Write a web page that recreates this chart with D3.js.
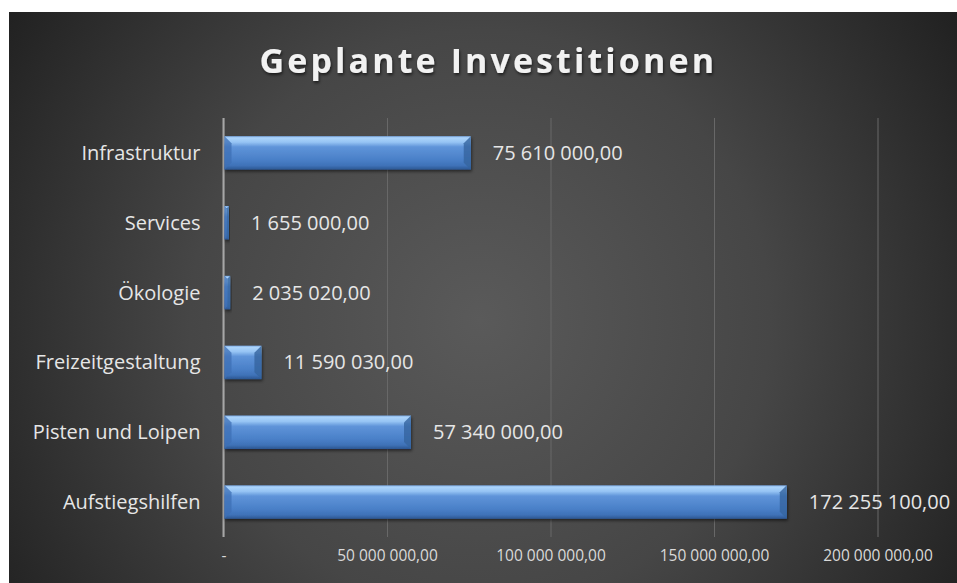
<!DOCTYPE html>
<html>
  <head>
    <meta charset="utf-8">
    <script src="https://d3js.org/d3.v7.min.js"></script>
    <title>Geplante Investitionen</title>
    <style>
      body { margin: 0; background: #fff; }
      text { font-family: 'Open Sans', sans-serif; }
      .tick line { stroke: #686868; }
      .domain { display: none; }
    </style>
  </head>
  <body>
    <svg width="957" height="583"></svg>
    <script>
      const categories = ['Aufstiegshilfen', 'Pisten und Loipen', 'Freizeitgestaltung', 'Ökologie', 'Services', 'Infrastruktur'];
      const values = [172255100, 57340000, 11590030, 2035020, 1655000, 75610000];
      const tickValues = [0, 50000000, 100000000, 150000000, 200000000];
      const title = 'Geplante Investitionen';

      const svg = d3.select('svg');
      const width = +svg.attr('width');
      const height = +svg.attr('height');
      const margin = { left: 223.5, right: 79.5, top: 118, bottom: 46 };
      const innerWidth = width - margin.left - margin.right;
      const innerHeight = height - margin.top - margin.bottom;

      const de = d3.formatLocale({ decimal: ',', thousands: '\u00a0', grouping: [3], currency: ['', ''] });
      const fmt = v => v === 0 ? '-' : de.format(',.2f')(v).replace(/\u00a0/g, ' ');

      const defs = svg.append('defs');
      const bg = defs.append('radialGradient').attr('id', 'bg')
          .attr('gradientUnits', 'userSpaceOnUse')
          .attr('cx', 480).attr('cy', 320).attr('r', 580);
      bg.append('stop').attr('offset', 0).attr('stop-color', '#5a5a5a');
      bg.append('stop').attr('offset', 0.5).attr('stop-color', '#464646');
      bg.append('stop').attr('offset', 1).attr('stop-color', '#1f1f1f');

      const barGrad = defs.append('linearGradient').attr('id', 'bar')
          .attr('x1', 0).attr('y1', 0).attr('x2', 0).attr('y2', 1);
      [[0, '#79a9e4'], [0.05, '#acd4fb'], [0.18, '#96c4f4'], [0.32, '#5f94d9'],
       [0.7, '#4a80c8'], [0.88, '#3f72b8'], [1, '#2c5691']].forEach(s =>
        barGrad.append('stop').attr('offset', s[0]).attr('stop-color', s[1]));

      const shadow = defs.append('filter').attr('id', 'shadow')
          .attr('x', '-10%').attr('y', '-20%').attr('width', '130%').attr('height', '160%');
      shadow.append('feDropShadow').attr('dx', 1).attr('dy', 2)
          .attr('stdDeviation', 1.5).attr('flood-color', '#000').attr('flood-opacity', 0.5);

      const tshadow = defs.append('filter').attr('id', 'tshadow');
      tshadow.append('feDropShadow').attr('dx', 1).attr('dy', 2)
          .attr('stdDeviation', 1.5).attr('flood-color', '#000').attr('flood-opacity', 0.6);

      svg.append('rect')
          .attr('x', 9).attr('y', 12)
          .attr('width', width - 9).attr('height', height - 12)
          .attr('fill', 'url(#bg)');

      svg.append('text')
          .attr('x', 488).attr('y', 73)
          .attr('text-anchor', 'middle')
          .attr('fill', '#f2f2f2')
          .attr('font-size', 34)
          .attr('font-weight', 'bold')
          .attr('letter-spacing', 2.5)
          .attr('textLength', 457)
          .attr('filter', 'url(#tshadow)')
          .text(title);

      const g = svg.append('g')
          .attr('transform', `translate(${margin.left},${margin.top})`);

      const xScale = d3.scaleLinear().domain([0, 200000000]).range([0, innerWidth]);
      const yScale = d3.scaleBand().domain(categories.slice().reverse())
          .range([0, innerHeight]).paddingInner(0.52).paddingOuter(0.26);

      const xAxis = d3.axisBottom(xScale)
          .tickValues(tickValues)
          .tickSize(-innerHeight)
          .tickPadding(13)
          .tickFormat(fmt);

      const xAxisG = g.append('g')
          .attr('transform', `translate(0,${innerHeight})`)
          .call(xAxis);
      xAxisG.selectAll('.tick text')
          .attr('fill', '#d9d9d9')
          .attr('font-size', 15.5)
          .attr('font-family', "'Open Sans', sans-serif");
      xAxisG.selectAll('.tick').filter(d => d === 0).select('line').attr('stroke', 'none');

      g.append('line')
          .attr('x1', 0).attr('x2', 0)
          .attr('y1', 0).attr('y2', innerHeight)
          .attr('stroke', '#a6a6a6').attr('stroke-width', 2);

      const data = categories.map((c, i) => ({ cat: c, val: values[i] }));

      const bars = g.selectAll('.bar').data(data).enter().append('g')
          .attr('class', 'bar')
          .attr('transform', d => `translate(1,${yScale(d.cat)})`)
          .attr('filter', 'url(#shadow)');

      const bh = yScale.bandwidth();
      bars.append('rect')
          .attr('width', d => Math.max(xScale(d.val) - 1, 1))
          .attr('height', bh)
          .attr('fill', 'url(#bar)');

      // bevels at the ends of each bar
      const bev = d => Math.min(7, (xScale(d.val) - 1) / 2);
      bars.append('path')
          .attr('d', d => `M0,0 L${bev(d)},${bev(d)} L${bev(d)},${bh - bev(d)} L0,${bh} Z`)
          .attr('fill', '#3d6fb4').attr('opacity', 0.75);
      bars.append('path')
          .attr('d', d => {
            const w = xScale(d.val) - 1, b = bev(d);
            return `M${w},0 L${w - b},${b} L${w - b},${bh - b} L${w},${bh} Z`;
          })
          .attr('fill', '#35649f').attr('opacity', 0.8);

      g.selectAll('.value').data(data).enter().append('text')
          .attr('class', 'value')
          .attr('x', d => xScale(d.val) + 22)
          .attr('y', d => yScale(d.cat) + bh / 2)
          .attr('dy', '0.35em')
          .attr('fill', '#e6e6e6')
          .attr('font-size', 20)
          .text(d => fmt(d.val));

      g.selectAll('.cat').data(data).enter().append('text')
          .attr('class', 'cat')
          .attr('x', -23)
          .attr('y', d => yScale(d.cat) + bh / 2)
          .attr('dy', '0.35em')
          .attr('text-anchor', 'end')
          .attr('fill', '#e6e6e6')
          .attr('font-size', 20)
          .text(d => d.cat);
    </script>
  </body>
</html>
